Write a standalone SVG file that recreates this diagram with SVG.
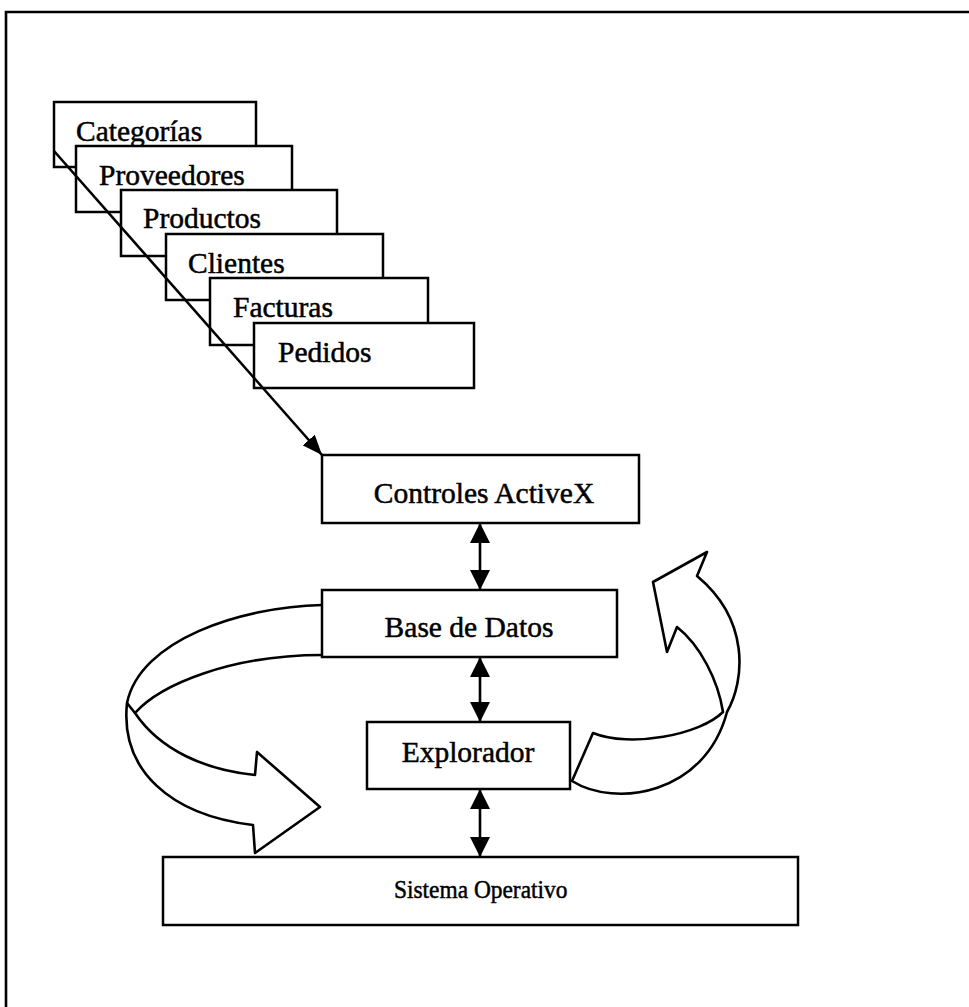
<svg xmlns="http://www.w3.org/2000/svg" width="969" height="1007" viewBox="0 0 969 1007">
  <style>
    .box { fill: #fff; stroke: #000; stroke-width: 2.5; }
    .lbl { font-family: "Liberation Serif", "Times New Roman", serif; font-size: 29.5px; fill: #000; stroke: #000; stroke-width: 0.5px; }
    .mid { text-anchor: middle; }
    .base { font-size: 26px; }
    .conn { stroke: #000; stroke-width: 2.6; fill: none; }
    .band { fill: #fff; stroke: #000; stroke-width: 2.6; stroke-linejoin: round; }
  </style>
  <defs>
    <marker id="head" viewBox="0 0 20 20" refX="20" refY="10" markerWidth="20" markerHeight="20" markerUnits="userSpaceOnUse" orient="auto-start-reverse">
      <path d="M0,0 L20,10 L0,20 Z" fill="#000"/>
    </marker>
    <marker id="headSlim" viewBox="0 0 20 16" refX="20" refY="8" markerWidth="20" markerHeight="16" markerUnits="userSpaceOnUse" orient="auto">
      <path d="M0,0 L20,8 L0,16 Z" fill="#000"/>
    </marker>
  </defs>

  <rect width="969" height="1007" fill="#fff"/>
  <!-- outer frame: top and left edges -->
  <path d="M6,1007 L6,12 L969,12" fill="none" stroke="#000" stroke-width="2.6"/>

  <!-- curved cycle arrows -->
  <g id="cycle-left">
    <path class="band" d="M322,605 C240,607 140,640 127,703 C120,770 170,815 253,825 L255,853 L320,807 L257,752 L255,775 C205,770 160,750 135,713 C160,685 230,655 322,655"/>
    <path class="band" d="M127,703 L135,713"/>
  </g>
  <g id="cycle-right">
    <path class="band" d="M572,781 C615,808 705,795 727,712 C745,680 750,620 697,576 L707,552 L653,582 L667,652 L677,627 C700,645 718,680 723,712 C700,735 630,748 593,733 Z"/>
  </g>

  <!-- stacked tables -->
  <g id="categorias"><rect class="box" x="54" y="102" width="202" height="65"/><text class="lbl" x="76" y="141">Categorías</text></g>
  <g id="proveedores"><rect class="box" x="76" y="146" width="216" height="66"/><text class="lbl" x="99" y="185">Proveedores</text></g>
  <g id="productos"><rect class="box" x="121" y="190" width="216" height="66"/><text class="lbl" x="143" y="228">Productos</text></g>
  <g id="clientes"><rect class="box" x="166" y="234" width="217" height="66"/><text class="lbl" x="188" y="273">Clientes</text></g>
  <g id="facturas"><rect class="box" x="210" y="278" width="218" height="67"/><text class="lbl" x="233" y="317">Facturas</text></g>
  <g id="pedidos"><rect class="box" x="254" y="323" width="220" height="65"/><text class="lbl" x="278" y="362">Pedidos</text></g>

  <!-- layers -->
  <g id="controles"><rect class="box" x="322" y="455" width="317" height="68"/><text class="lbl mid" x="484" y="503">Controles ActiveX</text></g>
  <g id="base-datos"><rect class="box" x="322" y="590" width="295" height="67"/><text class="lbl mid" x="469" y="637">Base de Datos</text></g>
  <g id="explorador"><rect class="box" x="367" y="722" width="203" height="67"/><text class="lbl mid" x="468" y="762">Explorador</text></g>
  <g id="sistema"><rect class="box" x="163" y="857" width="635" height="68"/><text class="lbl base" transform="translate(394,898) scale(0.9,1)">Sistema Operativo</text></g>

  <!-- connectors -->
  <g id="connectors">
    <line class="conn" x1="54" y1="151" x2="322" y2="455" marker-end="url(#headSlim)"/>
    <line class="conn" x1="480" y1="523" x2="480" y2="590" marker-start="url(#head)" marker-end="url(#head)"/>
    <line class="conn" x1="480" y1="657" x2="480" y2="722" marker-start="url(#head)" marker-end="url(#head)"/>
    <line class="conn" x1="480" y1="789" x2="480" y2="857" marker-start="url(#head)" marker-end="url(#head)"/>
  </g>
</svg>
